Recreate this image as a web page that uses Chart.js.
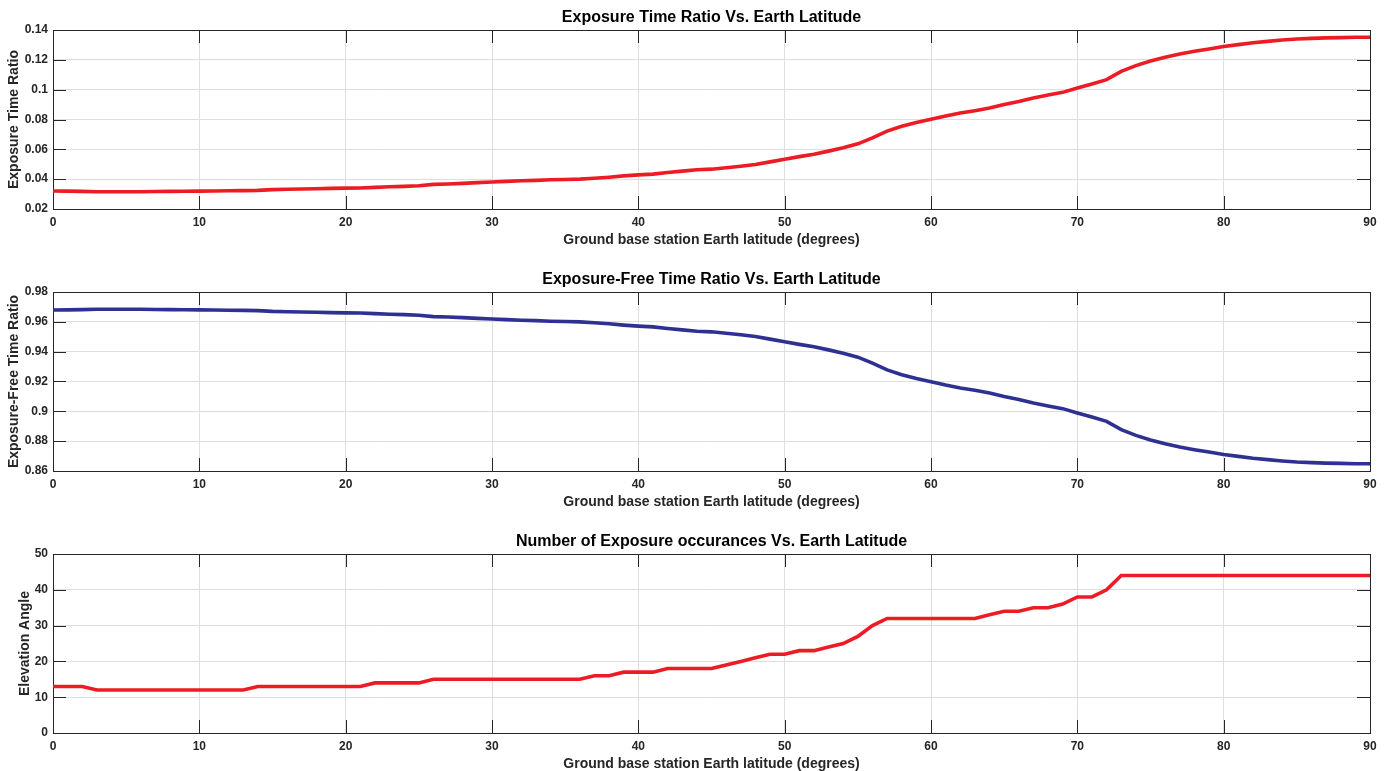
<!DOCTYPE html>
<html>
<head>
<meta charset="utf-8">
<script src="https://cdn.jsdelivr.net/npm/chart.js@4.4.0/dist/chart.umd.min.js"></script>
<style>
  html, body { margin: 0; padding: 0; background: #fff; width: 1393px; height: 771px; overflow: hidden; }
  .panel { position: absolute; left: 0; width: 1393px; height: 262px; }
</style>
</head>
<body>
<div class="panel" style="top:0px"><canvas id="c1" width="1393" height="262"></canvas></div>
<div class="panel" style="top:262px"><canvas id="c2" width="1393" height="262"></canvas></div>
<div class="panel" style="top:524px"><canvas id="c3" width="1393" height="262"></canvas></div>
<script>
// Ground station latitude, degrees (one sample per degree)
const latitude = Array.from({ length: 91 }, (_, i) => i);

// Fraction of time the station is exposed
const exposureRatio = [
  0.0321, 0.0320, 0.0318, 0.0316, 0.0316, 0.0316, 0.0316, 0.0317, 0.0318, 0.0319,
  0.0320, 0.0321, 0.0322, 0.0323, 0.0325, 0.0330, 0.0332, 0.0334, 0.0336, 0.0338,
  0.0340, 0.0341, 0.0345, 0.0349, 0.0352, 0.0356, 0.0365, 0.0368, 0.0372, 0.0377,
  0.0381, 0.0385, 0.0389, 0.0392, 0.0396, 0.0398, 0.0400, 0.0406, 0.0413, 0.0422,
  0.0429, 0.0434, 0.0445, 0.0454, 0.0463, 0.0467, 0.0476, 0.0487, 0.0498, 0.0516,
  0.0534, 0.0551, 0.0567, 0.0588, 0.0610, 0.0637, 0.0677, 0.0722, 0.0755, 0.0780,
  0.0802, 0.0824, 0.0843, 0.0859, 0.0877, 0.0901, 0.0921, 0.0944, 0.0964, 0.0982,
  0.1011, 0.1038, 0.1067, 0.1123, 0.1161, 0.1192, 0.1217, 0.1239, 0.1257, 0.1273,
  0.1289, 0.1302, 0.1315, 0.1324, 0.1333, 0.1340, 0.1344, 0.1347, 0.1349, 0.1351,
  0.1351
];

// Fraction of time the station is free of exposure
const exposureFreeRatio = [
  0.9679, 0.9680, 0.9682, 0.9684, 0.9684, 0.9684, 0.9684, 0.9683, 0.9682, 0.9681,
  0.9680, 0.9679, 0.9678, 0.9677, 0.9675, 0.9670, 0.9668, 0.9666, 0.9664, 0.9662,
  0.9660, 0.9659, 0.9655, 0.9651, 0.9648, 0.9644, 0.9635, 0.9632, 0.9628, 0.9623,
  0.9619, 0.9615, 0.9611, 0.9608, 0.9604, 0.9602, 0.9600, 0.9594, 0.9587, 0.9578,
  0.9571, 0.9566, 0.9555, 0.9546, 0.9537, 0.9533, 0.9524, 0.9513, 0.9502, 0.9484,
  0.9466, 0.9449, 0.9433, 0.9412, 0.9390, 0.9363, 0.9323, 0.9278, 0.9245, 0.9220,
  0.9198, 0.9176, 0.9157, 0.9141, 0.9123, 0.9099, 0.9079, 0.9056, 0.9036, 0.9018,
  0.8989, 0.8962, 0.8933, 0.8877, 0.8839, 0.8808, 0.8783, 0.8761, 0.8743, 0.8727,
  0.8711, 0.8698, 0.8685, 0.8676, 0.8667, 0.8660, 0.8656, 0.8653, 0.8651, 0.8649,
  0.8649
];

// Number of exposure occurrences
const exposureCount = [
  13, 13, 13, 12, 12, 12, 12, 12, 12, 12,
  12, 12, 12, 12, 13, 13, 13, 13, 13, 13,
  13, 13, 14, 14, 14, 14, 15, 15, 15, 15,
  15, 15, 15, 15, 15, 15, 15, 16, 16, 17,
  17, 17, 18, 18, 18, 18, 19, 20, 21, 22,
  22, 23, 23, 24, 25, 27, 30, 32, 32, 32,
  32, 32, 32, 32, 33, 34, 34, 35, 35, 36,
  38, 38, 40, 44, 44, 44, 44, 44, 44, 44,
  44, 44, 44, 44, 44, 44, 44, 44, 44, 44,
  44
];

// Axis ticks and their labels
const xTicks = [0, 10, 20, 30, 40, 50, 60, 70, 80, 90];
const xTickLabels = ['0', '10', '20', '30', '40', '50', '60', '70', '80', '90'];
const yTicks1 = [0.02, 0.04, 0.06, 0.08, 0.10, 0.12, 0.14];
const yTickLabels1 = ['0.02', '0.04', '0.06', '0.08', '0.1', '0.12', '0.14'];
const yTicks2 = [0.86, 0.88, 0.90, 0.92, 0.94, 0.96, 0.98];
const yTickLabels2 = ['0.86', '0.88', '0.9', '0.92', '0.94', '0.96', '0.98'];
const yTicks3 = [0, 10, 20, 30, 40, 50];
const yTickLabels3 = ['0', '10', '20', '30', '40', '50'];

const FONT = "'Liberation Sans', Arial, Helvetica, sans-serif";
const INK = '#262626';
const GRID = '#dedede';
const RED = '#ed1c24';
const NAVY = '#2e3192';

// Box, inward tick marks and text labels in the style of a classic engineering plot
const framePlugin = {
  id: 'frame',
  beforeDatasetsDraw(chart, args, o) {
    const { ctx, chartArea: a, scales: { x, y } } = chart;
    const L = 13;
    ctx.save();
    ctx.strokeStyle = INK;
    ctx.lineWidth = 1;
    ctx.beginPath();
    x.ticks.forEach(t => {
      const px = Math.round(x.getPixelForValue(t.value)) + 0.5;
      if (px <= a.left + 1 || px >= a.right - 1) return;
      ctx.moveTo(px, a.bottom); ctx.lineTo(px, a.bottom - L);
      ctx.moveTo(px, a.top); ctx.lineTo(px, a.top + L);
    });
    y.ticks.forEach(t => {
      const py = Math.round(y.getPixelForValue(t.value)) + 0.5;
      if (py <= a.top + 1 || py >= a.bottom - 1) return;
      ctx.moveTo(a.left, py); ctx.lineTo(a.left + L, py);
      ctx.moveTo(a.right, py); ctx.lineTo(a.right - L, py);
    });
    ctx.stroke();
    ctx.strokeRect(Math.round(a.left) + 0.5, Math.round(a.top) + 0.5,
                   Math.round(a.right - a.left), Math.round(a.bottom - a.top));
    ctx.restore();
  },
  afterDraw(chart, args, o) {
    const { ctx, chartArea: a } = chart;
    const cx = (a.left + a.right) / 2;
    ctx.save();
    ctx.textAlign = 'center';
    ctx.textBaseline = 'middle';
    ctx.fillStyle = '#000';
    ctx.font = 'bold 16px ' + FONT;
    ctx.fillText(o.title, cx, a.top - 12);
    ctx.fillStyle = INK;
    ctx.font = 'bold 14px ' + FONT;
    ctx.fillText(o.xTitle, cx, a.bottom + 31);
    ctx.translate(o.yTitleX, (a.top + a.bottom) / 2);
    ctx.rotate(-Math.PI / 2);
    ctx.fillText(o.yTitle, 0, 0);
    ctx.restore();
  }
};

function makeChart(id, values, color, yTicks, yLabels, title, yTitle, yTitleX) {
  const points = latitude.map((lat, i) => ({ x: lat, y: values[i] }));
  return new Chart(document.getElementById(id), {
    type: 'line',
    data: {
      datasets: [{
        data: points,
        borderColor: color,
        borderWidth: 3.6,
        pointRadius: 0,
        tension: 0,
        fill: false
      }]
    },
    options: {
      responsive: false,
      animation: false,
      devicePixelRatio: 1,
      layout: { padding: { top: 30, right: 23, left: 0, bottom: 0 } },
      plugins: {
        legend: { display: false },
        tooltip: { enabled: false },
        frame: { title, xTitle: 'Ground base station Earth latitude (degrees)', yTitle, yTitleX }
      },
      scales: {
        x: {
          type: 'linear',
          min: xTicks[0],
          max: xTicks[xTicks.length - 1],
          afterBuildTicks: s => { s.ticks = xTicks.map(v => ({ value: v })); },
          afterFit: s => { s.height = 53; },
          grid: { color: GRID, lineWidth: 1, drawTicks: false },
          border: { display: false },
          ticks: {
            autoSkip: false, maxRotation: 0, padding: 6, color: INK,
            font: { family: FONT, size: 12, weight: 'bold' },
            callback: v => xTickLabels[xTicks.indexOf(v)]
          }
        },
        y: {
          type: 'linear',
          min: yTicks[0],
          max: yTicks[yTicks.length - 1],
          afterBuildTicks: s => { s.ticks = yTicks.map(v => ({ value: v })); },
          afterFit: s => { s.width = 53; },
          grid: { color: GRID, lineWidth: 1, drawTicks: false },
          border: { display: false },
          ticks: {
            autoSkip: false, padding: 5, color: INK,
            font: { family: FONT, size: 12, weight: 'bold' },
            callback: v => {
              const k = yTicks.findIndex(t => Math.abs(t - v) < 1e-9);
              return k >= 0 ? yLabels[k] : '';
            }
          }
        }
      }
    },
    plugins: [framePlugin]
  });
}

makeChart('c1', exposureRatio, RED, yTicks1, yTickLabels1,
  'Exposure Time Ratio Vs. Earth Latitude', 'Exposure Time Ratio', 14);
makeChart('c2', exposureFreeRatio, NAVY, yTicks2, yTickLabels2,
  'Exposure-Free Time Ratio Vs. Earth Latitude', 'Exposure-Free Time Ratio', 14);
makeChart('c3', exposureCount, RED, yTicks3, yTickLabels3,
  'Number of Exposure occurances Vs. Earth Latitude', 'Elevation Angle', 25);
</script>
</body>
</html>
